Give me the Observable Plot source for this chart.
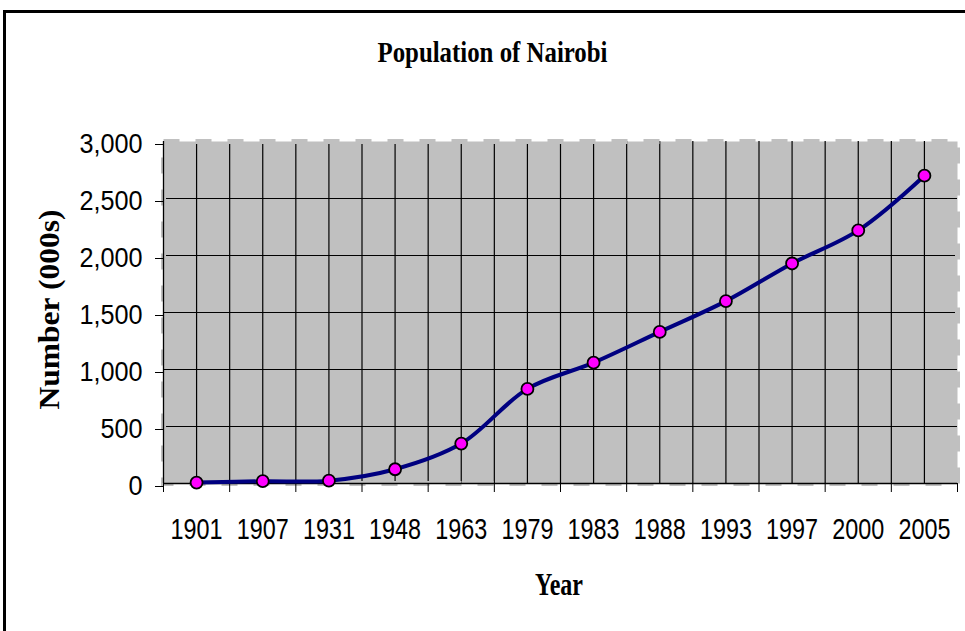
<!DOCTYPE html>
<html>
<head>
<meta charset="utf-8">
<script src="https://cdn.jsdelivr.net/npm/d3@7"></script>
<script src="https://cdn.jsdelivr.net/npm/@observablehq/plot@0.6"></script>
<style>
  html, body { margin: 0; padding: 0; background: #fff; }
  #wrap { position: relative; width: 965px; height: 631px; overflow: hidden; background: #fff; }
  #border { position: absolute; left: 3px; top: 10px; width: 1000px; height: 700px; border: 3px solid #000; box-sizing: border-box; }
  #chart { position: absolute; left: 0; top: 0; }
</style>
</head>
<body>
<div id="wrap"><div id="border"></div><div id="chart"></div></div>
<script>
const years = ["1901","1907","1931","1948","1963","1979","1983","1988","1993","1997","2000","2005"];
const population = [8, 20, 25, 125, 350, 830, 1060, 1330, 1600, 1930, 2220, 2700];
const yTicks = [0, 500, 1000, 1500, 2000, 2500, 3000];
const titleText = "Population of Nairobi";
const xLabel = "Year";
const yLabel = "Number (000s)";

const data = years.map((y, i) => ({i, year: y, pop: population[i]}));
const n = years.length;
const centers = d3.range(n);
const boundaries = d3.range(n + 1).map(k => k - 0.5);
const gridX = d3.range(0, n - 0.75, 0.5);
const gridY = yTicks.filter(v => v > 0 && v < 3000);

const sans = "'Liberation Sans', Arial, sans-serif";
const serif = "'Liberation Serif', 'Times New Roman', serif";

const chart = Plot.plot({
  width: 965,
  height: 631,
  marginLeft: 163,
  marginRight: 8,
  marginTop: 141,
  marginBottom: 148,
  style: {background: "transparent", color: "#000", overflow: "visible"},
  x: {type: "linear", domain: [-0.5, n - 0.5], axis: null},
  y: {domain: [0, 3000], axis: null},
  marks: [
    Plot.frame({fill: "#C0C0C0"}),
    Plot.ruleY(gridY, {stroke: "#000", strokeWidth: 1.2}),
    Plot.ruleX(gridX, {stroke: "#000", strokeWidth: 1.2}),
    Plot.frame({stroke: "#C0C0C0", strokeWidth: 5, strokeDasharray: "16,16", fill: "none"}),
    Plot.ruleX([-0.5], {stroke: "#000", strokeWidth: 1.3}),
    Plot.ruleY([0], {stroke: "#000", strokeWidth: 1.3}),
    Plot.axisY({ticks: yTicks, tickSize: 8, tickPadding: 13, tickFormat: d3.format(","), fontSize: 28, fontFamily: sans, label: null, dy: 3}),
    Plot.axisX({ticks: boundaries, tickSize: 9, tickFormat: () => "", label: null}),
    Plot.axisX({ticks: centers, tickSize: 0, tickPadding: 34, tickFormat: i => years[i], fontSize: 30, fontFamily: sans, label: null}),
    Plot.line(data, {x: "i", y: "pop", curve: "catmull-rom", stroke: "#000080", strokeWidth: 4}),
    Plot.dot(data, {x: "i", y: "pop", r: 6, fill: "#FF00FF", stroke: "#000", strokeWidth: 1.8}),
    Plot.text([titleText], {frameAnchor: "top", text: d => d, textAnchor: "middle", dx: -68, dy: -80, lineAnchor: "bottom", fontSize: 29, fontWeight: "bold", fontFamily: serif}),
    Plot.text([xLabel], {frameAnchor: "bottom", text: d => d, textAnchor: "middle", dx: -1.5, dy: 111, lineAnchor: "bottom", fontSize: 31, fontWeight: "bold", fontFamily: serif}),
    Plot.text([yLabel], {frameAnchor: "left", text: d => d, textAnchor: "middle", dx: -105, dy: -3, rotate: -90, lineAnchor: "bottom", fontSize: 30, fontWeight: "bold", fontFamily: serif})
  ]
});
document.getElementById("chart").appendChild(chart);

const yLabels = new Set(yTicks.map(d3.format(",")));
chart.querySelectorAll("text").forEach(el => {
  const t = el.textContent;
  let target = null;
  if (t === titleText) target = 230;
  else if (t === xLabel) target = 48;
  else if (t === yLabel) target = 200;
  else if (years.includes(t)) target = 52;
  else if (yLabels.has(t)) target = el.getComputedTextLength() * 0.9;
  if (target) {
    el.setAttribute("textLength", target);
    el.setAttribute("lengthAdjust", "spacingAndGlyphs");
  }
});
</script>
</body>
</html>
